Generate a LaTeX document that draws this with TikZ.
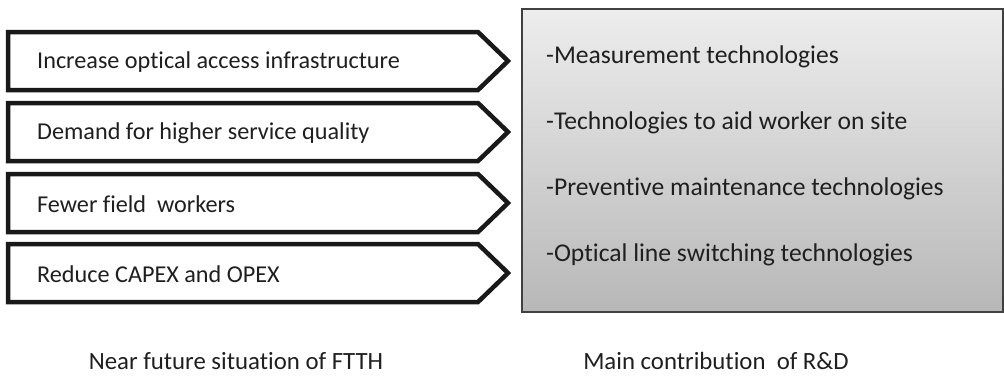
\documentclass[tikz,border=0pt]{standalone}
\usepackage{fontspec}
\setmainfont{Carlito}[Ligatures={NoCommon}]
\begin{document}
\begin{tikzpicture}[x=1pt,y=-1pt,
  every node/.style={text=black!88, inner sep=0pt},
  chevron/.style={draw=black!90, line width=4.5pt, line join=miter, fill=white},
  itemtext/.style={anchor=west, font=\fontsize{24.2}{28}\selectfont},
  panetext/.style={anchor=west, font=\fontsize{25.6}{30}\selectfont},
  caption/.style={anchor=base, font=\fontsize{24.8}{29}\selectfont}]
\useasboundingbox (0,0) rectangle (1004,376);

% situation chevrons, top to bottom
\foreach \c/\name in {61/s1, 132/s2, 203/s3, 273/s4}{
  \draw[chevron] (8,\c-29) -- (478,\c-29) -- (508,\c) -- (478,\c+29) -- (8,\c+29) -- cycle;
  \coordinate (\name) at (37,\c+1);
}
\node[itemtext] (t1) at (s1) {Increase optical access infrastructure};
\node[itemtext] (t2) at (s2) {Demand for higher service quality};
\node[itemtext] (t3) at (s3) {Fewer field\ \ workers};
\node[itemtext] (t4) at (s4) {Reduce CAPEX and OPEX};

% contribution panel with vertical gradient
\shade[top color=black!7, bottom color=black!28] (522,9) rectangle (1003,312);
\draw[draw=black!75, line width=1.2pt] (522,9) rectangle (1003,312);
\node[panetext] (r1) at (546,57) {-Measurement technologies};
\node[panetext] (r2) at (546,123) {-Technologies to aid worker on site};
\node[panetext] (r3) at (546,189) {-Preventive maintenance technologies};
\node[panetext] (r4) at (546,255) {-Optical line switching technologies};

% captions
\node[caption] (c1) at (236,369) {Near future situation of FTTH};
\node[caption] (c2) at (716,369) {Main contribution\ \ of R\&D};
\end{tikzpicture}
\end{document}
